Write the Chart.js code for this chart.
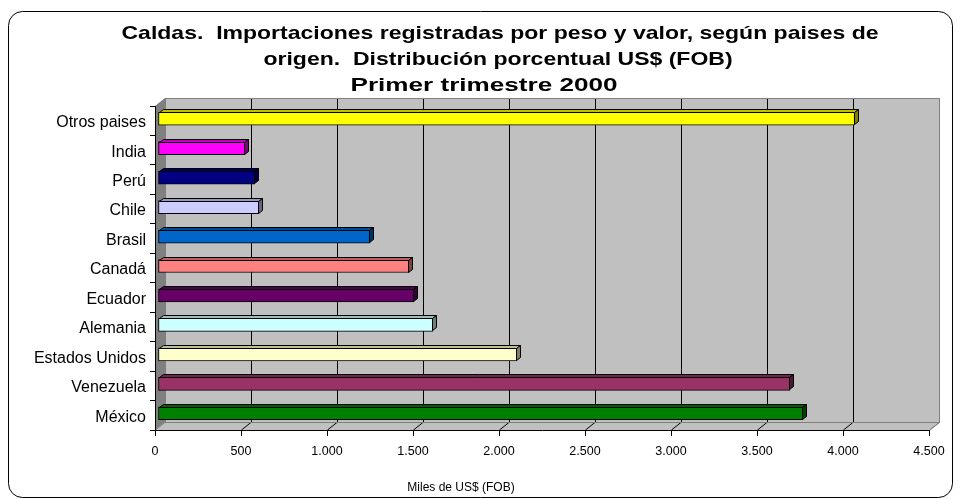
<!DOCTYPE html>
<html>
<head>
<meta charset="utf-8">
<script src="https://cdn.jsdelivr.net/npm/chart.js@4.4.1/dist/chart.umd.min.js"></script>
<style>
  html, body { margin: 0; padding: 0; background: #fff; }
  #wrap { width: 961px; height: 499px; }
</style>
</head>
<body>
<div id="wrap"><canvas id="myChart" width="961" height="499"></canvas></div>
<script>
// chart data, top row first
const categories = ['Otros paises', 'India', 'Perú', 'Chile', 'Brasil', 'Canadá',
    'Ecuador', 'Alemania', 'Estados Unidos', 'Venezuela', 'México'];
const values = [4050, 506, 564, 587, 1233, 1459, 1488, 1599, 2087, 3674, 3750];
const barColors = ['#FFFF00', '#FF00FF', '#000080', '#CCCCFF', '#0066CC', '#FF8080',
    '#660066', '#CCFFFF', '#FFFFCC', '#993366', '#008000'];
const xMax = 4500;
const xStep = 500;
const titleLines = [
    'Caldas.  Importaciones registradas por peso y valor, según paises de',
    'origen.  Distribución porcentual US$ (FOB)',
    'Primer trimestre 2000'
];
const axisTitle = 'Miles de US$ (FOB)';

// 3D look: wall depth, bar position inside the depth, bar depth
const DX = 10, DY = -8;
const BX = 3, BY = -2;
const BDX = 4, BDY = -3;

function shade(hex, f) {
    let r = parseInt(hex.substr(1, 2), 16), g = parseInt(hex.substr(3, 2), 16), b = parseInt(hex.substr(5, 2), 16);
    return `rgb(${Math.round(r * f)},${Math.round(g * f)},${Math.round(b * f)})`;
}

function formatThousands(v) {
    return String(v).replace(/\B(?=(\d{3})+(?!\d))/g, '.');
}

const frame3d = {
    id: 'frame3d',
    beforeDraw(chart) {
        const ctx = chart.ctx;
        const a = chart.chartArea;
        const xs = chart.scales.x;
        ctx.save();
        ctx.fillStyle = '#fff';
        ctx.fillRect(0, 0, chart.width, chart.height);

        // outer rounded border
        ctx.beginPath();
        ctx.roundRect(8.5, 11.5, 944, 486, 14);
        ctx.strokeStyle = '#000';
        ctx.lineWidth = 1;
        ctx.stroke();

        const L = a.left, R = a.right, T = a.top, B = a.bottom;

        // back wall
        ctx.fillStyle = '#C0C0C0';
        ctx.fillRect(L + DX, T + DY, R - L, B - T);
        // floor
        ctx.beginPath();
        ctx.moveTo(L, B); ctx.lineTo(R, B); ctx.lineTo(R + DX, B + DY); ctx.lineTo(L + DX, B + DY);
        ctx.closePath();
        ctx.fill();
        // side wall
        ctx.fillStyle = '#808080';
        ctx.beginPath();
        ctx.moveTo(L, T); ctx.lineTo(L + DX, T + DY); ctx.lineTo(L + DX, B + DY); ctx.lineTo(L, B);
        ctx.closePath();
        ctx.fill();

        // gridlines on back wall and on the floor
        ctx.lineWidth = 1;
        for (let v = 0; v <= xMax; v += xStep) {
            const x = Math.round(xs.getPixelForValue(v)) + 0.5;
            ctx.strokeStyle = (v === 0 || v === xMax) ? '#808080' : '#000';
            ctx.beginPath();
            ctx.moveTo(x + DX, B + DY);
            ctx.lineTo(x + DX, T + DY);
            ctx.stroke();
            ctx.beginPath();
            ctx.moveTo(x, B);
            ctx.lineTo(x + DX, B + DY);
            ctx.stroke();
        }
        // wall outline
        ctx.strokeStyle = '#808080';
        ctx.strokeRect(L + DX + 0.5, T + DY + 0.5, R - L, B - T);
        ctx.beginPath();
        ctx.moveTo(L + 0.5, T + 0.5); ctx.lineTo(L + DX + 0.5, T + DY + 0.5);
        ctx.moveTo(R + 0.5, B + 0.5); ctx.lineTo(R + DX + 0.5, B + DY + 0.5);
        ctx.stroke();
        ctx.restore();
    },
    beforeDatasetsDraw(chart) {
        chart.ctx.save();
        chart.ctx.translate(BX, BY);
    },
    afterDatasetsDraw(chart) {
        const ctx = chart.ctx;
        const meta = chart.getDatasetMeta(0);
        ctx.lineWidth = 1;
        ctx.strokeStyle = '#000';
        meta.data.forEach((el, i) => {
            const p = el.getProps(['x', 'y', 'base', 'height'], true);
            const top = Math.round(p.y - p.height / 2) + 0.5;
            const bot = Math.round(p.y + p.height / 2) - 0.5;
            const x0 = Math.round(p.base) + 0.5, x1 = Math.round(p.x) - 0.5;
            // top face
            ctx.fillStyle = shade(barColors[i], 0.75);
            ctx.beginPath();
            ctx.moveTo(x0, top); ctx.lineTo(x0 + BDX, top + BDY); ctx.lineTo(x1 + BDX, top + BDY); ctx.lineTo(x1, top);
            ctx.closePath(); ctx.fill(); ctx.stroke();
            // end face
            ctx.fillStyle = shade(barColors[i], 0.5);
            ctx.beginPath();
            ctx.moveTo(x1, top); ctx.lineTo(x1 + BDX, top + BDY); ctx.lineTo(x1 + BDX, bot + BDY); ctx.lineTo(x1, bot);
            ctx.closePath(); ctx.fill(); ctx.stroke();
        });
        ctx.restore();
    },
    afterDraw(chart) {
        const ctx = chart.ctx;
        ctx.save();
        ctx.fillStyle = '#000';
        ctx.textAlign = 'center';
        ctx.textBaseline = 'middle';
        // title, Excel-like wide bold face
        ctx.font = 'bold 19px "Liberation Sans", Arial, sans-serif';
        const sx = 757 / ctx.measureText(titleLines[0]).width;
        const centers = [500, 498, 484];
        titleLines.forEach((t, i) => {
            ctx.save();
            ctx.translate(centers[i], 34 + i * 26);
            // the last line is set wider in the original
            const s = i === 2 ? 267 / ctx.measureText(t).width : sx;
            ctx.scale(s, 1);
            ctx.fillText(t, 0, 0);
            ctx.restore();
        });
        // axis title
        ctx.font = '12px "Liberation Sans", Arial, sans-serif';
        ctx.fillText(axisTitle, 461, 488);
        ctx.restore();
    }
};

Chart.defaults.font.family = '"Liberation Sans", Arial, sans-serif';
Chart.defaults.color = '#000';

const ctx = document.getElementById('myChart').getContext('2d');
const chart = new Chart(ctx, {
    type: 'bar',
    data: {
        labels: categories,
        datasets: [{
            data: values,
            backgroundColor: barColors,
            borderColor: '#000',
            borderWidth: 1,
            borderSkipped: false,
            barThickness: 13
        }]
    },
    options: {
        indexAxis: 'y',
        responsive: false,
        animation: false,
        layout: { padding: { left: 20, right: 32, top: 106, bottom: 5 } },
        plugins: {
            legend: { display: false },
            title: { display: false },
            tooltip: { enabled: false }
        },
        scales: {
            x: {
                min: 0,
                max: xMax,
                ticks: {
                    stepSize: xStep,
                    font: { size: 12.5 },
                    padding: 8,
                    maxRotation: 0,
                    callback: (v) => formatThousands(v)
                },
                grid: { drawOnChartArea: false, tickLength: 6, color: '#000' },
                border: { display: true, color: '#000' },
                afterFit(scale) { scale.height = 64; }
            },
            y: {
                ticks: { font: { size: 16 }, padding: 4, labelOffset: 2 },
                grid: { drawOnChartArea: false, tickLength: 5, color: '#000', offset: true },
                border: { display: true, color: '#000' },
                afterFit(scale) { scale.width = 135; }
            }
        }
    },
    plugins: [frame3d]
});
</script>
</body>
</html>
